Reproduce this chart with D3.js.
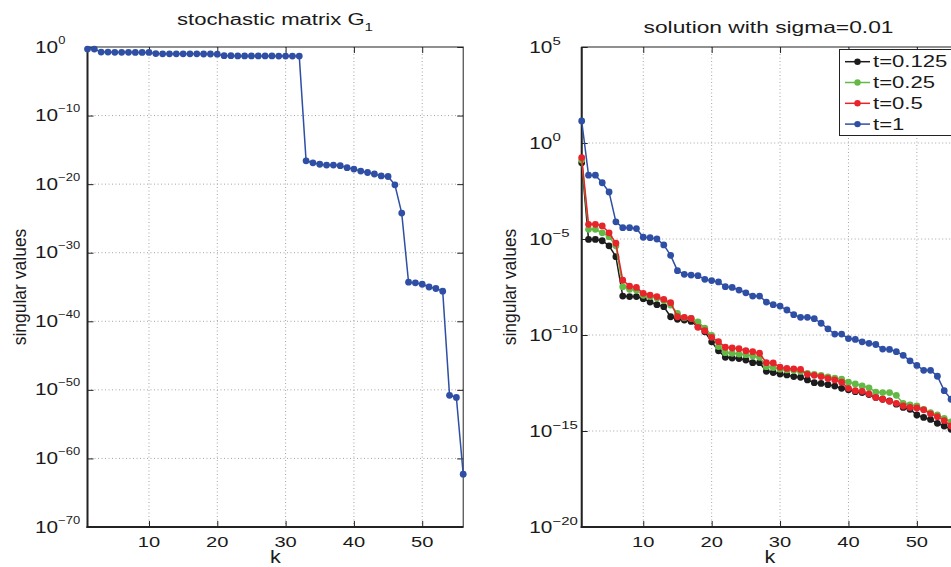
<!DOCTYPE html>
<html>
<head>
<meta charset="utf-8">
<script src="https://cdn.jsdelivr.net/npm/d3@7"></script>
<style>
body { margin: 0; background: #fff; }
svg { display: block; font-family: "Liberation Sans", Arial, Helvetica, sans-serif; }
</style>
</head>
<body>
<svg id="chart"></svg>
<script>
// Layout variables
let width = 951,
    height = 567;
let stretch = 1.3;   // the original figure is stretched horizontally
let textColor = "#1a1a1a";

// Data
let k = d3.range(1, 57);
let xTicks = [10, 20, 30, 40, 50];

let g1Values = [0.5, 0.5,
    0.18, 0.18, 0.17, 0.17, 0.17, 0.16, 0.16, 0.16,
    0.11, 0.1, 0.1, 0.1, 0.1, 0.1, 0.1, 0.095, 0.095, 0.09,
    0.055, 0.055, 0.05, 0.05, 0.05, 0.05, 0.05, 0.05, 0.048, 0.048, 0.047, 0.047,
    2.5e-17, 1.3e-17, 8e-18, 6e-18, 6e-18, 5e-18, 2.5e-18, 1.6e-18, 8e-19, 5e-19,
    3e-19, 1.6e-19, 1.3e-19, 8e-21, 6e-25,
    5e-35, 4e-35, 2.5e-35, 1e-35, 6e-36, 2.5e-36,
    1.6e-51, 8e-52, 5e-63];

let t0125 = [0.093, 9.5e-6, 9.5e-6, 8.1e-6, 4.4e-6, 1.2e-6, 1.07e-8, 1.0e-8, 1.0e-8, 7.8e-9,
    5.2e-9, 3.8e-9, 3.0e-9, 8.9e-10, 6.6e-10, 6.0e-10, 5.1e-10, 2.7e-10, 1.48e-10, 4.4e-11,
    1.51e-11, 6.9e-12, 6.3e-12, 5.9e-12, 5.0e-12, 3.6e-12, 3.6e-12, 1.29e-12, 1.1e-12, 9.3e-13,
    8.3e-13, 6.8e-13, 6.3e-13, 4.6e-13, 3.3e-13, 3.0e-13, 2.6e-13, 2.2e-13, 1.66e-13, 1.41e-13,
    1.12e-13, 1.0e-13, 7.9e-14, 5.6e-14, 4.5e-14, 3.7e-14, 2.5e-14, 1.7e-14, 1.35e-14, 6.8e-15,
    5.1e-15, 4.0e-15, 2.5e-15, 1.82e-15, 1.23e-15, 7.9e-16];

let t025 = [0.129, 3.2e-5, 3.2e-5, 2.1e-5, 1.32e-5, 4.4e-6, 3.3e-8, 2.4e-8, 2.2e-8, 1.17e-8,
    1.0e-8, 8.5e-9, 6.2e-9, 3.6e-9, 1.35e-9, 7.8e-10, 7.4e-10, 4.8e-10, 2.3e-10, 9.5e-11,
    2.5e-11, 1.2e-11, 1.12e-11, 1.02e-11, 9.5e-12, 8.1e-12, 6.9e-12, 2.24e-12, 2.0e-12, 1.66e-12,
    1.51e-12, 1.45e-12, 1.26e-12, 1.0e-12, 8.9e-13, 7.9e-13, 6.6e-13, 5.6e-13, 5.0e-13, 3.5e-13,
    2.8e-13, 2.24e-13, 1.78e-13, 1.07e-13, 1.0e-13, 1.0e-13, 7.2e-14, 2.75e-14, 2.3e-14, 2.0e-14,
    1.35e-14, 8.9e-15, 6.8e-15, 4.6e-15, 3.0e-15, 1.78e-15];

let t05 = [0.174, 5.8e-5, 5.8e-5, 4.8e-5, 2.1e-5, 6.0e-6, 7.2e-8, 3.5e-8, 3.0e-8, 1.48e-8,
    1.2e-8, 1.0e-8, 7.2e-9, 4.8e-9, 8.9e-10, 8.3e-10, 7.4e-10, 2.5e-10, 1.66e-10, 7.6e-11,
    4.5e-11, 2.3e-11, 2.1e-11, 1.95e-11, 1.51e-11, 1.35e-11, 1.12e-11, 3.6e-12, 3.5e-12, 2.1e-12,
    1.82e-12, 1.74e-12, 1.62e-12, 8.9e-13, 7.9e-13, 6.8e-13, 5.5e-13, 4.6e-13, 3.5e-13, 1.66e-13,
    1.26e-13, 1.17e-13, 8.5e-14, 5.6e-14, 4.5e-14, 3.5e-14, 2.75e-14, 2.0e-14, 1.7e-14, 1.58e-14,
    1.26e-14, 7.8e-15, 5.6e-15, 3.5e-15, 1.82e-15, 1.0e-15];

let t1 = [14, 2.1e-2, 2.1e-2, 8.5e-3, 2.8e-3, 7.8e-5, 3.9e-5, 3.9e-5, 3.5e-5, 1.23e-5,
    1.17e-5, 1.0e-5, 4.9e-6, 1.41e-6, 2.24e-7, 1.45e-7, 1.32e-7, 1.23e-7, 7.9e-8, 6.8e-8,
    5.8e-8, 3.3e-8, 3.0e-8, 2.2e-8, 1.58e-8, 1.07e-8, 1.07e-8, 5.2e-9, 3.8e-9, 3.2e-9,
    2.0e-9, 1.15e-9, 8.3e-10, 8.3e-10, 7.1e-10, 4.1e-10, 2.1e-10, 1.12e-10, 1.12e-10, 6.5e-11,
    5.9e-11, 4.4e-11, 3.7e-11, 3.2e-11, 1.86e-11, 1.78e-11, 1.35e-11, 8.7e-12, 4.5e-12, 2.6e-12,
    1.45e-12, 1.45e-12, 7.1e-13, 1.26e-13, 4.5e-14, 2.0e-14];

let seriesNames = ["t=0.125", "t=0.25", "t=0.5", "t=1"];
let seriesValues = [t0125, t025, t05, t1];
let seriesColors = ["#1c1c1c", "#63b946", "#e8242b", "#2f4fa5"];

let leftTicksY = [1e0, 1e-10, 1e-20, 1e-30, 1e-40, 1e-50, 1e-60, 1e-70];
let rightTicksY = [1e5, 1e0, 1e-5, 1e-10, 1e-15, 1e-20];

let svg = d3.select("#chart").attr("width", width).attr("height", height);

// Panels
let panels = [
    {
        left: 87.5, right: 463.2, top: 47, bottom: 527,
        yDomain: [1e-70, 1e0], yTicks: leftTicksY,
        labelX: 35, baseSize: 16, expSize: 10, baseDy: 5.6, expDy: -9,
        title: "stochastic matrix G", titleSub: "1", titleX: 275, titleY: 25, titleSize: 16,
        ylabelX: 26, xlabelX: 275.5,
        series: [{ values: g1Values, color: "#2f4fa5" }]
    },
    {
        left: 581.7, right: 957.9, top: 47, bottom: 527,
        yDomain: [1e-20, 1e5], yTicks: rightTicksY,
        labelX: 529.3, baseSize: 16, expSize: 11.5, baseDy: 6, expDy: -8,
        title: "solution with sigma=0.01", titleSub: null, titleX: 768.5, titleY: 32.5, titleSize: 16.5,
        ylabelX: 515.5, xlabelX: 770,
        series: seriesValues.map((v, i) => ({ values: v, color: seriesColors[i] }))
    }
];

function stretched(parent, x, y, size, anchor, sxFactor) {
    return parent.append("text")
        .attr("transform", "translate(" + x + "," + y + ") scale(" + (sxFactor || stretch) + ",1)")
        .attr("font-size", size)
        .attr("text-anchor", anchor)
        .attr("fill", textColor);
}

function drawPanel(p) {
    let x = d3.scaleLinear().domain([1, 56]).range([p.left, p.right]);
    let y = d3.scaleLog().domain(p.yDomain).range([p.bottom, p.top]);
    let g = svg.append("g");

    // dotted grid
    g.selectAll(".vgrid").data(xTicks).join("line")
        .attr("x1", d => x(d)).attr("x2", d => x(d))
        .attr("y1", p.top).attr("y2", p.bottom)
        .attr("stroke", "#a5a5a5").attr("stroke-width", 1)
        .attr("stroke-dasharray", "1,2.5");
    g.selectAll(".hgrid").data(p.yTicks.slice(1, -1)).join("line")
        .attr("x1", p.left).attr("x2", p.right)
        .attr("y1", d => y(d)).attr("y2", d => y(d))
        .attr("stroke", "#a5a5a5").attr("stroke-width", 1)
        .attr("stroke-dasharray", "1,2.5");

    // inward ticks on all four sides
    let tickStyle = sel => {
        sel.select(".domain").remove();
        sel.selectAll(".tick line").attr("stroke", "#222").attr("stroke-width", 1);
    };
    g.append("g").attr("transform", "translate(0," + p.bottom + ")")
        .call(d3.axisBottom(x).tickValues(xTicks).tickSizeInner(-6).tickSizeOuter(0).tickFormat(""))
        .call(tickStyle);
    g.append("g").attr("transform", "translate(0," + p.top + ")")
        .call(d3.axisTop(x).tickValues(xTicks).tickSizeInner(-6).tickSizeOuter(0).tickFormat(""))
        .call(tickStyle);
    g.append("g").attr("transform", "translate(" + p.left + ",0)")
        .call(d3.axisLeft(y).tickValues(p.yTicks).tickSizeInner(-6).tickSizeOuter(0).tickFormat(""))
        .call(tickStyle);
    g.append("g").attr("transform", "translate(" + p.right + ",0)")
        .call(d3.axisRight(y).tickValues(p.yTicks).tickSizeInner(-6).tickSizeOuter(0).tickFormat(""))
        .call(tickStyle);

    // box
    g.append("rect")
        .attr("x", p.left).attr("y", p.top)
        .attr("width", p.right - p.left).attr("height", p.bottom - p.top)
        .attr("fill", "none").attr("stroke", "#222").attr("stroke-width", 1);
    g.append("line").attr("x1", p.left).attr("x2", p.left).attr("y1", p.top).attr("y2", p.bottom + 1)
        .attr("stroke", "#222").attr("stroke-width", 2);
    g.append("line").attr("x1", p.left - 1).attr("x2", p.right).attr("y1", p.bottom).attr("y2", p.bottom)
        .attr("stroke", "#222").attr("stroke-width", 2);

    // series (later series on top)
    let line = d3.line().x((d, i) => x(k[i])).y(d => y(d));
    p.series.forEach(s => {
        g.append("path").datum(s.values)
            .attr("d", line)
            .attr("fill", "none")
            .attr("stroke", s.color)
            .attr("stroke-width", 1.5);
        g.selectAll(null).data(s.values).join("circle")
            .attr("cx", (d, i) => x(k[i]))
            .attr("cy", d => y(d))
            .attr("r", 3.4)
            .attr("fill", s.color);
    });

    // x tick labels
    xTicks.forEach(t => {
        stretched(g, x(t), 546.5, 15.5, "middle").text(t);
    });

    // y tick labels 10^n
    p.yTicks.forEach(t => {
        let e = Math.round(Math.log10(t));
        let txt = stretched(g, p.labelX, y(t) + p.baseDy, p.baseSize, "start");
        txt.append("tspan").text("10");
        txt.append("tspan")
            .attr("font-size", p.expSize)
            .attr("dy", p.expDy)
            .text(e < 0 ? "\u2212" + Math.abs(e) : e);
    });

    // title
    let title = stretched(g, p.titleX, p.titleY, p.titleSize, "middle", 1.38);
    title.append("tspan").text(p.title);
    if (p.titleSub) {
        title.append("tspan").attr("font-size", 11).attr("dy", 6).text(p.titleSub);
    }

    // axis labels
    g.append("text")
        .attr("transform", "translate(" + p.ylabelX + "," + ((p.top + p.bottom) / 2) + ") rotate(-90)")
        .attr("font-size", 17.5)
        .attr("text-anchor", "middle")
        .attr("fill", textColor)
        .text("singular values");
    stretched(g, p.xlabelX, 563, 18, "middle", 1.2).text("k");
}

function drawLegend() {
    let lg = svg.append("g");
    lg.append("rect")
        .attr("x", 839.5).attr("y", 49.5)
        .attr("width", 140).attr("height", 86)
        .attr("fill", "#fff").attr("stroke", "#222").attr("stroke-width", 1);
    seriesNames.forEach((name, i) => {
        let ry = 61.7 + i * 20.8;
        lg.append("line")
            .attr("x1", 845).attr("x2", 870).attr("y1", ry).attr("y2", ry)
            .attr("stroke", seriesColors[i]).attr("stroke-width", 1.5);
        lg.append("circle").attr("cx", 857.5).attr("cy", ry).attr("r", 3.2).attr("fill", seriesColors[i]);
        stretched(lg, 873, ry + 5.6, 16, "start", 1.38).text(name);
    });
}

panels.forEach(drawPanel);
drawLegend();
</script>
</body>
</html>
